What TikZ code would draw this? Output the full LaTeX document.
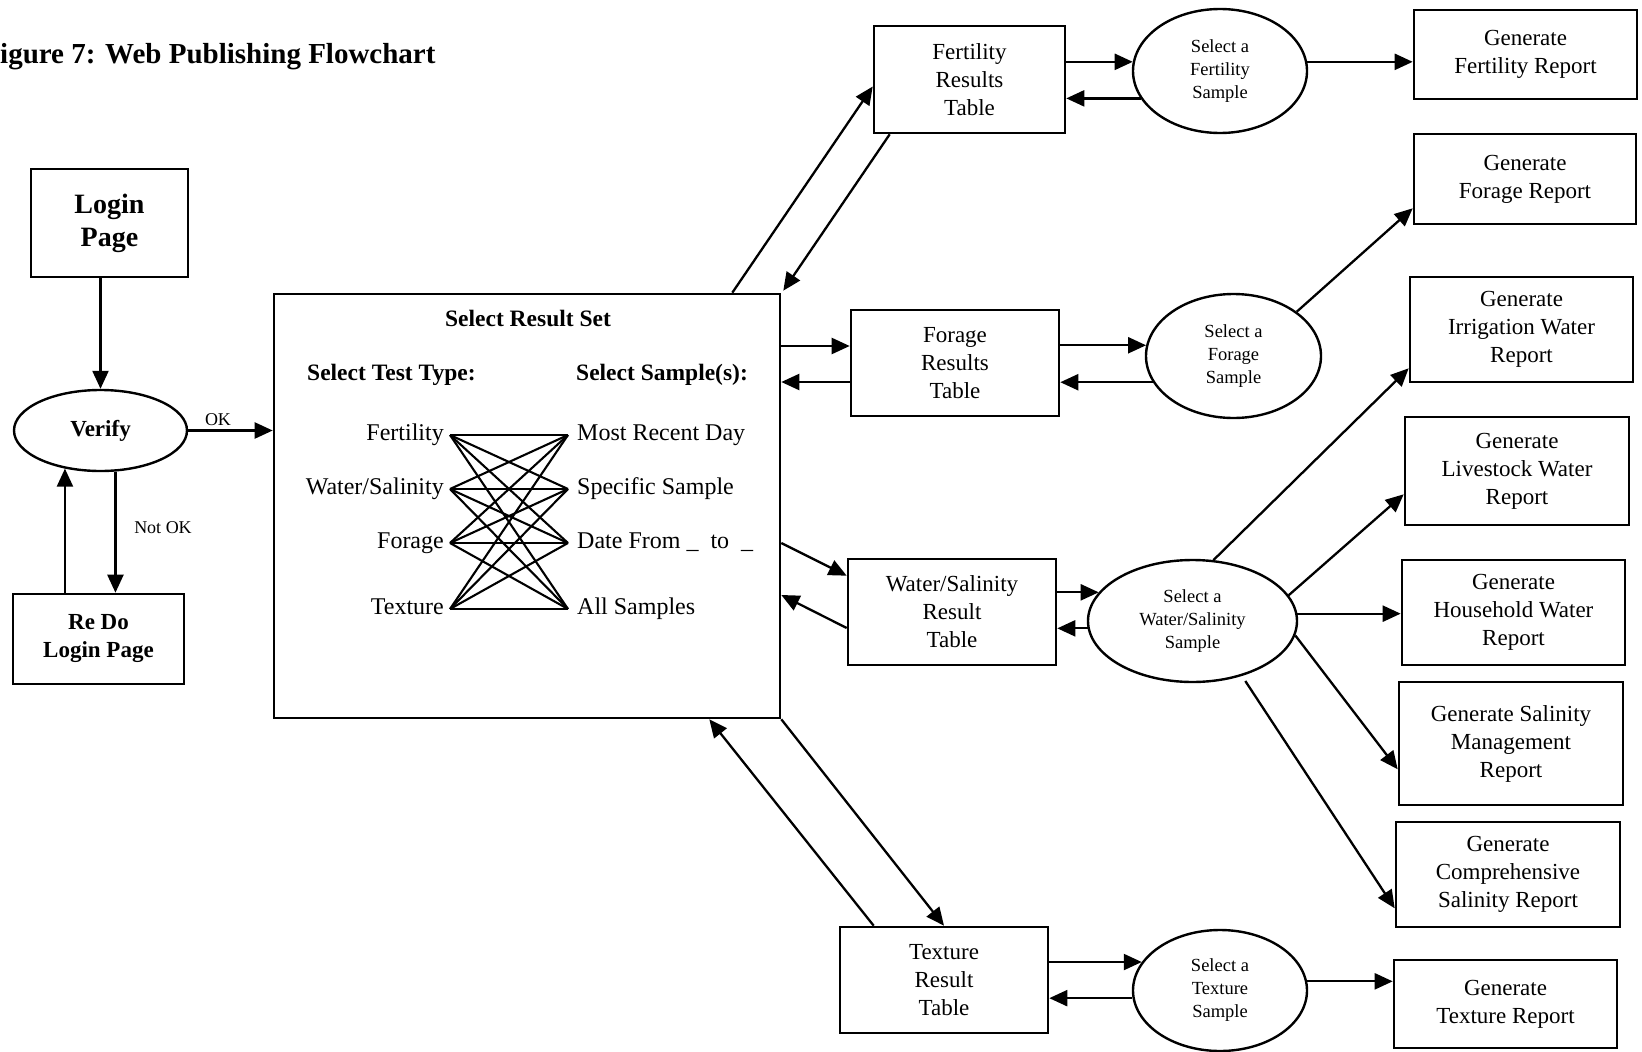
\documentclass[tikz,border=0pt]{standalone}
\usepackage{fontspec}
\setmainfont{Liberation Serif}
\usetikzlibrary{arrows.meta,shapes.geometric,calc}

\begin{document}
\begin{tikzpicture}[x=1pt,y=-1pt,
  sz/.style 2 args={minimum width=#1pt,minimum height=#2pt},
  box/.style={draw,line width=2.6pt,rectangle,inner sep=0pt,align=center,
    font=\fontsize{23}{28}\selectfont},
  bbox/.style={box,font=\bfseries\fontsize{23}{28}\selectfont},
  oval/.style={draw,line width=2.4pt,ellipse,inner sep=0pt,align=center,
    font=\fontsize{18.5}{23}\selectfont},
  arr/.style={line width=2.3pt,-{Triangle[length=18pt,width=16pt]}},
  link/.style={line width=2.1pt},
  lbl/.style={inner ysep=1.5pt,text height=16pt,text depth=5pt,
    font=\fontsize{24}{28}\selectfont},
  hdr/.style={inner sep=1pt,font=\bfseries\fontsize{23.5}{28}\selectfont},
  small/.style={inner sep=1pt,font=\fontsize{18}{22}\selectfont},
]
\useasboundingbox (0,0) rectangle (1642,1052);

% title
\node[anchor=base west,inner sep=0pt,font=\bfseries\fontsize{29}{34}\selectfont]
  (title) at (0,63) {igure 7: Web Publishing Flowchart};

% login part
\node[bbox,font=\bfseries\fontsize{28}{33}\selectfont,sz={157}{108}] (login) at (109.5,223) {Login\\Page};
\node[oval,font=\bfseries\fontsize{23}{28}\selectfont,sz={173}{81}] (verify) at (100.5,430.5) {Verify};
\node[bbox,sz={171}{90}] (redo) at (98.5,639) {Re Do\\Login Page};

% result set selection
\node[box,sz={506}{424}] (srs) at (527,506) {};
\node[hdr] (srstitle) at (528,318) {Select Result Set};
\node[hdr,anchor=west] (hdtype) at (306,375) {Select Test Type:};
\node[hdr,anchor=west] (hdsamp) at (575,375) {Select Sample(s):};

\node[lbl,inner xsep=6pt,anchor=east] (tF) at (450,435) {Fertility};
\node[lbl,inner xsep=6pt,anchor=east] (tW) at (450,489) {Water/Salinity};
\node[lbl,inner xsep=6pt,anchor=east] (tG) at (450,543) {Forage};
\node[lbl,inner xsep=6pt,anchor=east] (tT) at (450,609) {Texture};
\node[lbl,inner xsep=9pt,anchor=west] (sM) at (568,435) {Most Recent Day};
\node[lbl,inner xsep=9pt,anchor=west] (sS) at (568,489) {Specific Sample};
\node[lbl,inner xsep=9pt,anchor=west] (sD) at (568,543) {Date From \_\ \ to \ \_};
\node[lbl,inner xsep=9pt,anchor=west] (sA) at (568,609) {All Samples};
\foreach \a in {tF,tW,tG,tT}
  \foreach \b in {sM,sS,sD,sA}
    \draw[link] (\a.east) -- (\b.west);

% fertility branch
\node[box,sz={191}{107}] (ftab) at (969.5,79.5) {Fertility\\Results\\Table};
\node[oval,sz={174}{124}] (fsamp) at (1220,71) {Select a\\Fertility\\Sample};
\node[box,sz={223}{89}] (gfert) at (1525.5,54.5) {Generate\\Fertility Report};

% forage branch
\node[box,sz={222}{90}] (gforage) at (1525,179) {Generate\\Forage Report};
\node[box,sz={208}{106}] (fotab) at (955,363) {Forage\\Results\\Table};
\node[oval,sz={175}{124}] (fosamp) at (1233.5,356) {Select a\\Forage\\Sample};

% water / salinity branch
\node[box,sz={223}{105}] (girr) at (1521.5,329.5) {Generate\\Irrigation Water\\Report};
\node[box,sz={224}{108}] (glive) at (1517,471) {Generate\\Livestock Water\\Report};
\node[box,sz={208}{106}] (wtab) at (952,612) {Water/Salinity\\Result\\Table};
\node[oval,sz={209}{122}] (wsamp) at (1192.5,621) {Select a\\Water/Salinity\\Sample};
\node[box,sz={223}{105}] (ghouse) at (1513.5,612.5) {Generate\\Household Water\\Report};
\node[box,sz={224}{123}] (gsal) at (1511,743.5) {Generate Salinity\\Management\\Report};
\node[box,sz={224}{105}] (gcomp) at (1508,874.5) {Generate\\Comprehensive\\Salinity Report};

% texture branch
\node[box,sz={208}{106}] (ttab) at (944,980) {Texture\\Result\\Table};
\node[oval,sz={174}{121}] (tsamp) at (1220,990.5) {Select a\\Texture\\Sample};
\node[box,sz={223}{88}] (gtex) at (1505.5,1004) {Generate\\Texture Report};

% login flow
\draw[arr] (login.south -| verify.north) -- (verify.north);
\draw[arr] (verify.east) -- (verify.east -| srs.west);
\node[small] (ok) at (218,420) {OK};
\draw[arr] (verify.-70) -- (verify.-70 |- redo.north);
\draw[arr] (verify.-133 |- redo.north) -- (verify.-133);
\node[small] (notok) at (163,528) {Not OK};

% result set <-> fertility
\draw[arr] ($(srs.north east)+(-49,0)$) -- ($(ftab.west)+(0,7)$);
\draw[arr] ($(ftab.south west)+(17,0)$) -- ($(srs.north east)+(2,-2)$);
\draw[arr] (fsamp.174 -| ftab.east) -- (fsamp.174);
\draw[arr] (fsamp.199) -- (fsamp.199 -| ftab.east);
\draw[arr] (fsamp.6) -- (fsamp.6 -| gfert.west);

% result set <-> forage
\coordinate (fo1) at ($(fotab.west)+(0,-17)$);
\coordinate (fo2) at ($(fotab.west)+(0,19)$);
\draw[arr] (srs.east |- fo1) -- (fo1);
\draw[arr] (fo2) -- (srs.east |- fo2);
\draw[arr] (fosamp.173 -| fotab.east) -- (fosamp.173);
\draw[arr] (fosamp.198) -- (fosamp.198 -| fotab.east);
\draw[arr] (fosamp.35) -- ($(gforage.south west)+(0,-17)$);

% result set <-> water/salinity
\draw[arr] ($(srs.east)+(0,37)$) -- ($(wtab.north west)+(0,18)$);
\draw[arr] ($(wtab.west)+(0,16)$) -- ($(srs.east)+(0,89)$);
\draw[arr] (wsamp.163 -| wtab.east) -- (wsamp.163);
\draw[arr] (wsamp.184) -- (wsamp.184 -| wtab.east);
\draw[arr] (wsamp.71) -- ($(girr.south west)+(0,-15)$);
\draw[arr] (wsamp.15) -- ($(glive.south west)+(0,-32)$);
\draw[arr] (wsamp.4) -- (wsamp.4 -| ghouse.west);
\draw[arr] (wsamp.-8) -- ($(gsal.south west)+(0,-37)$);
\draw[arr,shorten <=6pt] (wsamp.-48) -- ($(gcomp.south west)+(0,-20)$);

% result set <-> texture
\draw[arr] (srs.south east) -- (ttab.north);
\draw[arr] ($(ttab.north west)+(35,0)$) -- ($(srs.south east)+(-72,0)$);
\draw[arr] (tsamp.160 -| ttab.east) -- (tsamp.160);
\draw[arr] (tsamp.185) -- (tsamp.185 -| ttab.east);
\draw[arr] (tsamp.6) -- (tsamp.6 -| gtex.west);
\end{tikzpicture}
\end{document}
